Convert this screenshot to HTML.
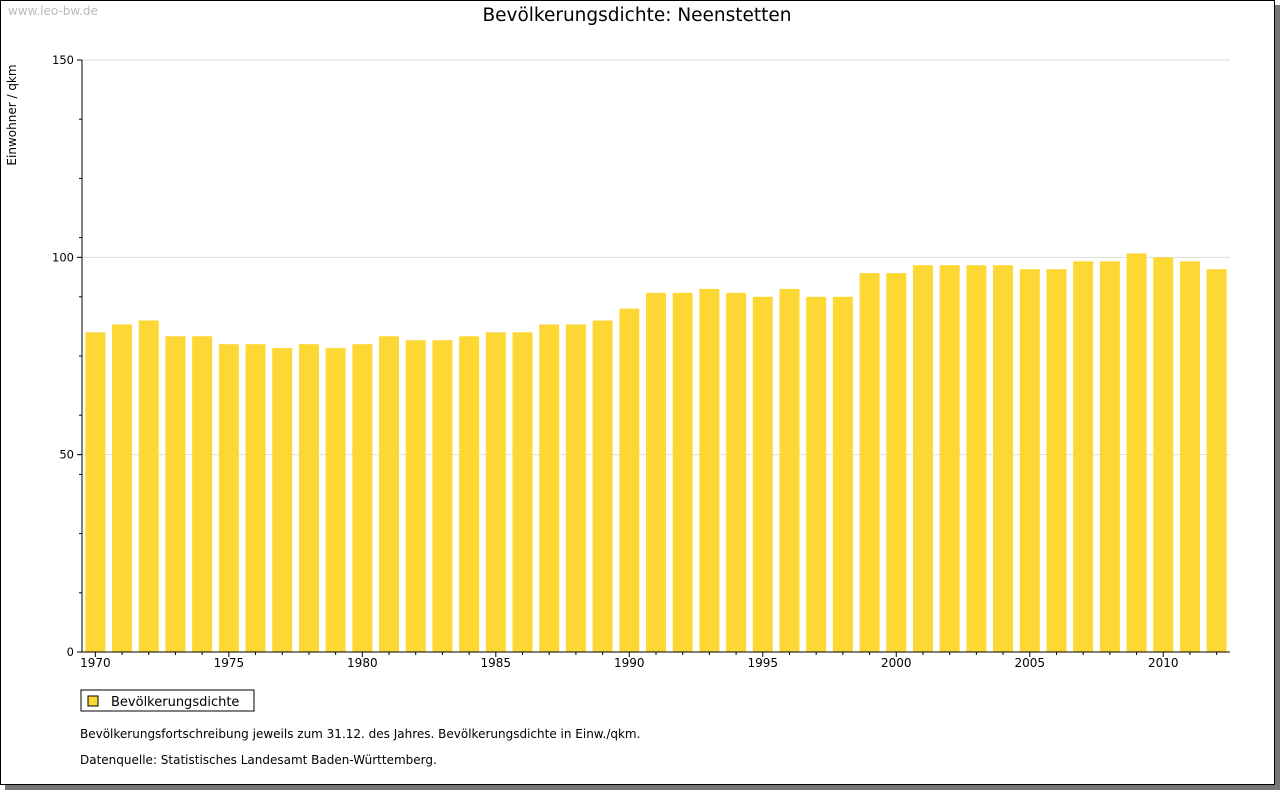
<!DOCTYPE html>
<html><head><meta charset="utf-8"><style>
body{margin:0;background:#fff;font-family:"DejaVu Sans","Liberation Sans",sans-serif;}
#frame{position:absolute;left:0;top:0;width:1273px;height:783px;border:1px solid #000;background:#fff;box-shadow:5px 5px 0 #777;}
</style></head><body>
<div id="frame"></div>
<svg id="chart" width="1280" height="791" style="position:absolute;left:0;top:0">
<text x="8" y="15" font-size="12" fill="#bbb">www.leo-bw.de</text>
<text x="637" y="21" font-size="18.5" text-anchor="middle" fill="#000">Bevölkerungsdichte: Neenstetten</text>
<text transform="translate(16,115) rotate(-90)" font-size="12" text-anchor="middle">Einwohner / qkm</text>
<g id="grid"></g><g id="bars"></g><g id="axes"></g>
<rect x="81" y="690" width="173" height="21" fill="#fff" stroke="#000"/>
<rect x="88" y="696" width="10" height="10" fill="#fdd835" stroke="#000"/>
<text x="111" y="706" font-size="13">Bevölkerungsdichte</text>
<text x="80" y="738" font-size="12">Bevölkerungsfortschreibung jeweils zum 31.12. des Jahres. Bevölkerungsdichte in Einw./qkm.</text>
<text x="80" y="764" font-size="12">Datenquelle: Statistisches Landesamt Baden-Württemberg.</text>
</svg>
<script>
const years=[1970,1971,1972,1973,1974,1975,1976,1977,1978,1979,1980,1981,1982,1983,1984,1985,1986,1987,1988,1989,1990,1991,1992,1993,1994,1995,1996,1997,1998,1999,2000,2001,2002,2003,2004,2005,2006,2007,2008,2009,2010,2011,2012];
const values=[81,83,84,80,80,78,78,77,78,77,78,80,79,79,80,81,81,83,83,84,87,91,91,92,91,90,92,90,90,96,96,98,98,98,98,97,97,99,99,101,100,99,97];
const yTicks=[0,50,100,150];
const xLabels=[1970,1975,1980,1985,1990,1995,2000,2005,2010];
const NS="http://www.w3.org/2000/svg";
const x0=82,x1=1230,y0=652,yTop=60,yMax=150;
const step=(x1-x0)/years.length;
const y=v=>y0-(v/yMax)*(y0-yTop);
const xc=i=>x0+step*(i+0.5);
function mk(t,a,p){const e=document.createElementNS(NS,t);for(const k in a)e.setAttribute(k,a[k]);document.getElementById(p).appendChild(e);return e;}
yTicks.forEach(t=>{
 if(t>0){const g=mk('line',{x1:x0,x2:x1,y1:y(t),y2:y(t),stroke:'#ddd'},'grid');
 
 }
 const l=mk('text',{x:x0-8,y:y(t)+4,'font-size':11.5,'text-anchor':'end'},'axes');l.textContent=t;
 
 
 mk('line',{x1:x0-5,x2:x0,y1:y(t),y2:y(t),stroke:'#000'},'axes');
});
for(let v=15;v<150;v+=15){mk('line',{x1:x0-3,x2:x0,y1:y(v),y2:y(v),stroke:'#000'},'axes');}
values.forEach((v,i)=>{
 const r=mk('rect',{x:xc(i)-10,y:y(v),width:20,height:y0-y(v),fill:'#fdd835'},'bars');
 
 
 mk('line',{x1:xc(i),x2:xc(i),y1:y0,y2:y0+(xLabels.includes(years[i])?5:3),stroke:'#000'},'axes');
});
xLabels.forEach(yr=>{
 const i=years.indexOf(yr);
 const l=mk('text',{x:xc(i),y:y0+15,'font-size':12,'text-anchor':'middle'},'axes');l.textContent=yr;
 
 
});
const ax=mk('line',{x1:x0,x2:x0,y1:yTop,y2:y0,stroke:'#000'},'axes');


const bx=mk('line',{x1:x0,x2:x1,y1:y0,y2:y0,stroke:'#000'},'axes');


</script>
</body></html>
